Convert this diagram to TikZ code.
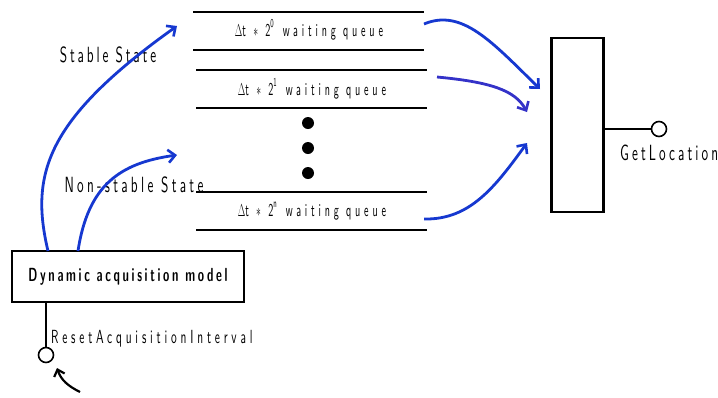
\documentclass[tikz,border=0pt]{standalone}
\usepackage{fontspec}
\usetikzlibrary{arrows.meta}
% narrow, tracked sans for the labels
\newfontfamily\statefont{lmsans10-regular.otf}[FakeStretch=0.6, LetterSpace=13]
\newfontfamily\widestatefont{lmsans10-regular.otf}[FakeStretch=0.6, LetterSpace=15]
\newfontfamily\getfont{lmsans10-regular.otf}[FakeStretch=0.6, LetterSpace=14]
\newfontfamily\resetfont{lmsans10-regular.otf}[FakeStretch=0.6, LetterSpace=20]
\newfontfamily\queuefont{lmsans10-regular.otf}[LetterSpace=38]
\newfontfamily\modelfont{lmsans10-bold.otf}[FakeStretch=0.6, LetterSpace=14]
\definecolor{flowblue}{RGB}{22,56,208}
\definecolor{flowviolet}{RGB}{52,50,200}
\newcommand\queuelabel[1]{\scalebox{0.56}[1]{\queuefont\fontsize{18}{20}\selectfont$\Delta$t $\ast$ 2\raisebox{1.1ex}{\fontsize{12}{12}\selectfont #1}\hspace{0.9em}waiting queue}}
\tikzset{
  lbl/.style={inner sep=0pt},
  qline/.style={line width=1.6pt},
  boxline/.style={draw, line width=2.3pt, inner sep=0pt},
  flow/.style={flowblue, line width=2.8pt, -{Straight Barb[length=7pt,width=13pt,line width=2.6pt]}},
  port/.style={circle, draw, line width=1.6pt, minimum size=15pt, inner sep=0pt, fill=white},
  dot/.style={circle, fill=black, minimum size=12pt, inner sep=0pt}
}
\begin{document}
\begin{tikzpicture}[x=1pt, y=-1pt]
\useasboundingbox (0,0) rectangle (718,397);

% waiting queues
\draw[qline] (193,12) -- (424,12);
\draw[qline] (193,50) -- (424,50);
\node[lbl] (q0) at (309,30) {\queuelabel{0}};
\draw[qline] (196,70) -- (427,70);
\draw[qline] (196,108) -- (427,108);
\node[lbl] (q1) at (312,89) {\queuelabel{1}};
\node[dot] (d1) at (308,123) {};
\node[dot] (d2) at (308,148) {};
\node[dot] (d3) at (308,173) {};
\draw[qline] (196,192) -- (427,192);
\draw[qline] (196,230) -- (427,230);
\node[lbl] (qn) at (312,211) {\queuelabel{n}};

% locator component
\node[boxline, minimum width=52pt, minimum height=174pt] (loc) at (577.5,125) {};
\node[port] (get) at (659,129) {};
\draw[line width=2pt] (loc.east |- get) -- (get.west);
\node[lbl, anchor=west, font=\getfont\fontsize{22}{24}\selectfont] (getlbl) at (620,153) {GetLocation};

% acquisition model
\node[boxline, minimum width=232pt, minimum height=51pt,
      font=\modelfont\fontsize{19}{21}\selectfont] (model) at (128,276.5) {Dynamic acquisition model};
\node[port] (reset) at (46,355) {};
\draw[line width=2pt] (reset.north |- model.south) -- (reset.north);
\node[lbl, anchor=west, font=\resetfont\fontsize{19}{21}\selectfont] (resetlbl) at (51,339) {ResetAcquisitionInterval};
\coordinate (trig) at (80,392);
\draw[line width=2.2pt, -{Straight Barb[length=6pt,width=11pt,line width=2.2pt]}] (trig) .. controls (68,386) and (61,380) .. (57,368);

% state transitions
\node[lbl, font=\statefont\fontsize{22}{24}\selectfont] (stable) at (108,55) {Stable State};
\node[lbl, font=\widestatefont\fontsize{22}{24}\selectfont] (nonstable) at (134,185) {Non-stable State};
\coordinate (s0) at (48,251);
\coordinate (s1) at (78,251);
\coordinate (in0) at (177,26);
\coordinate (inn) at (177,155);
\draw[flow] (s0) .. controls (30,175) and (45,120) .. (in0);
\draw[flow] (s1) .. controls (88,185) and (120,163) .. (inn);

% outputs of the queues
\coordinate (o0) at (424,24);
\coordinate (o1) at (437,77);
\coordinate (on) at (424,219);
\coordinate (t0) at (540,89);
\coordinate (t1) at (527,112);
\coordinate (tn) at (527,143);
\draw[flow] (o0) .. controls (462,8) and (492,42) .. (t0);
\draw[flow, flowviolet] (o1) .. controls (490,82) and (515,90) .. (t1);
\draw[flow] (on) .. controls (470,220) and (495,187) .. (tn);
\end{tikzpicture}
\end{document}
